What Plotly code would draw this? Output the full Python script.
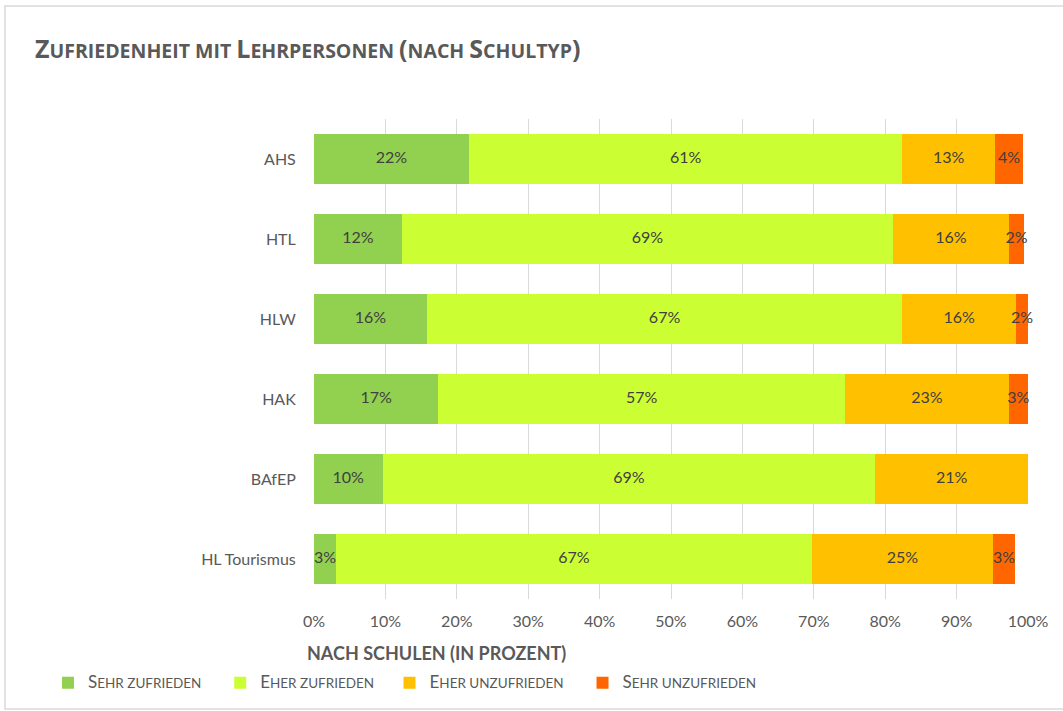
import plotly.graph_objects as go

categories = ["AHS", "HTL", "HLW", "HAK", "BAfEP", "HL Tourismus"]
sehr_zufrieden = [21.7, 12.3, 15.8, 17.4, 9.6, 3.1]
eher_zufrieden = [60.7, 68.8, 66.6, 57.0, 69.0, 66.6]
eher_unzufrieden = [13.0, 16.2, 15.9, 22.9, 21.4, 25.4]
sehr_unzufrieden = [3.9, 2.2, 1.7, 2.7, 0.0, 3.1]
x_ticks = [0, 10, 20, 30, 40, 50, 60, 70, 80, 90, 100]
x_tick_labels = [f"{v}%" for v in x_ticks]

def sc(first, rest, big=17, small=13.5):
    return f"<span style='font-size:{big}px'>{first}</span><span style='font-size:{small}px'>{rest}</span>"

NB = "&nbsp;"
series = [
    (sc("S", "EHR ZUFRIEDEN" + NB * 4), sehr_zufrieden, "#92D050"),
    (sc("E", "HER ZUFRIEDEN" + NB * 3), eher_zufrieden, "#CCFF33"),
    (sc("E", "HER UNZUFRIEDEN" + NB * 4), eher_unzufrieden, "#FFC000"),
    (sc("S", "EHR UNZUFRIEDEN"), sehr_unzufrieden, "#FF6600"),
]

FONT = "Lato, 'Open Sans', sans-serif"
TFONT = "Open Sans"

fig = go.Figure()
cum = [0.0] * len(categories)
lab_x, lab_y, lab_t = [], [], []
for name, vals, color in series:
    fig.add_trace(go.Bar(
        y=categories, x=vals, name=name, orientation="h",
        marker=dict(color=color, line=dict(width=0)),
        textposition="none", hoverinfo="skip",
    ))
    for i, v in enumerate(vals):
        if v > 0:
            lab_x.append(cum[i] + v / 2)
            lab_y.append(categories[i])
            lab_t.append(f"{round(v)}%")
        cum[i] += v

fig.add_trace(go.Scatter(
    x=lab_x, y=lab_y, text=lab_t, mode="text", showlegend=False,
    textfont=dict(color="#404040", size=16, family=FONT), hoverinfo="skip",
    cliponaxis=False,
))

W, H = 1063, 711
L, R, T, B = 314, 1028, 119, 599

def px(xp):
    return (xp - L) / (R - L)

def py(yp):
    return (B - yp) / (B - T)

BIG, SMALL = 25, 19.5
title_text = ("<b>" + sc("Z", "UFRIEDENHEIT MIT ", BIG, SMALL) + sc("L", "EHRPERSONEN ", BIG, SMALL)
              + f"<span style='font-size:{BIG}px'>(</span>" + sc("", "NACH ", BIG, SMALL)
              + sc("S", "CHULTYP", BIG, SMALL) + f"<span style='font-size:{BIG}px'>)</span></b>")

fig.update_layout(
    width=W, height=H,
    margin=dict(l=L, r=W - R, t=T, b=H - B, pad=0),
    barmode="stack", bargap=0.375,
    plot_bgcolor="white", paper_bgcolor="white",
    font=dict(family=FONT, color="#595959", size=16),
    showlegend=True,
    legend=dict(orientation="h", x=px(48), y=py(683), xanchor="left", yanchor="middle",
                font=dict(size=13.5, color="#595959", family=FONT), traceorder="normal",
                itemwidth=30, tracegroupgap=0),
    xaxis=dict(range=[0, 100], tickvals=x_ticks, ticktext=x_tick_labels,
               showgrid=True, gridcolor="#D9D9D9", gridwidth=1, zeroline=False,
               showline=False, ticks="outside", ticklen=8, tickcolor="rgba(0,0,0,0)",
               tickfont=dict(size=16, color="#595959", family=FONT), fixedrange=True),
    yaxis=dict(autorange="reversed", showgrid=False, zeroline=False, showline=False,
               ticks="outside", ticklen=14, tickcolor="rgba(0,0,0,0)",
               tickfont=dict(size=16, color="#595959", family=FONT), fixedrange=True),
    annotations=[
        dict(text=title_text, xref="paper", yref="paper", x=px(33), y=py(48),
             xanchor="left", yanchor="middle", showarrow=False,
             font=dict(color="#595959", family=TFONT, size=SMALL)),
        dict(text="<b>NACH SCHULEN (IN PROZENT)</b>", xref="paper", yref="paper",
             x=px(436), y=py(653), xanchor="center", yanchor="middle", showarrow=False,
             font=dict(color="#595959", family=FONT, size=18)),
    ],
    shapes=[
        dict(type="rect", xref="paper", yref="paper", x0=px(5), x1=px(1075),
             y0=py(709), y1=py(6), line=dict(color="#D9D9D9", width=1.5), layer="below"),
    ],
)

fig.write_html("out.html", config={"displayModeBar": False},
               post_script="document.body.style.margin='0';document.body.style.overflow='hidden';")
